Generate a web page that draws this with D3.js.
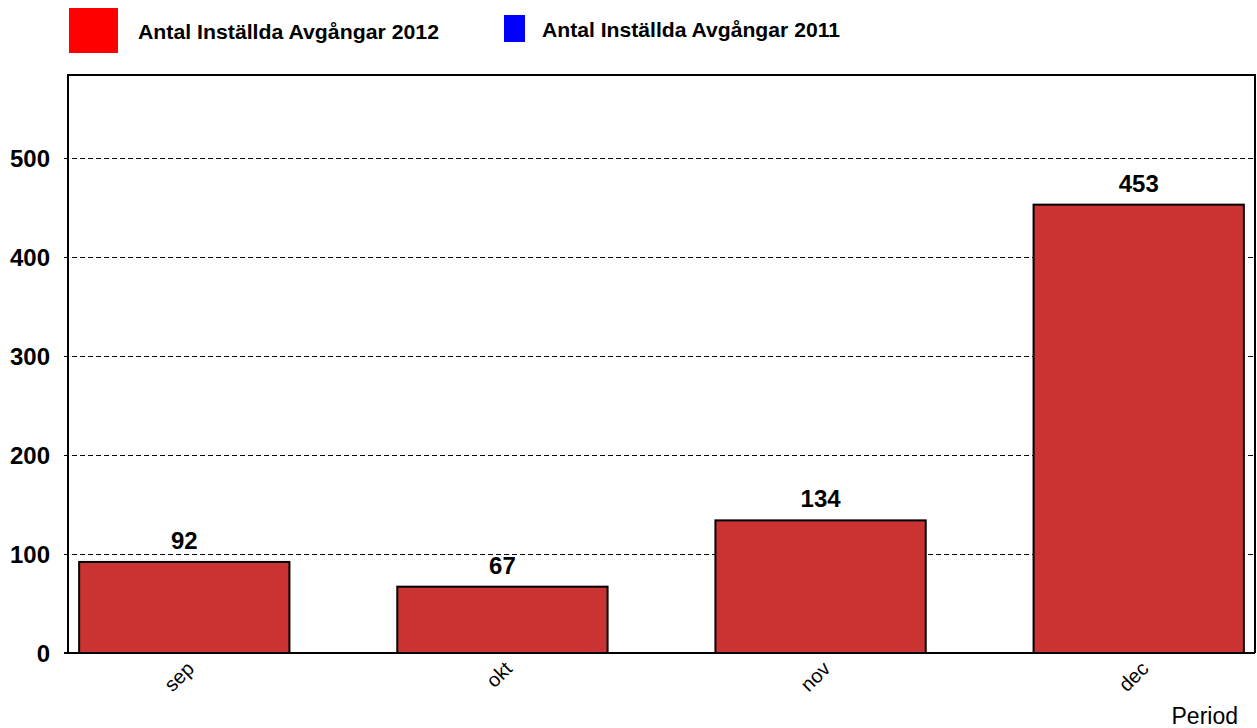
<!DOCTYPE html>
<html lang="sv">
<head>
	<meta charset="UTF-8">
	<title>Antal Inställda Avgångar</title>
	<style>
		html, body {
			margin: 0;
			background: #fff;
			font-family: 'Liberation Sans', Arial, sans-serif;
		}
	</style>
	<script src="https://d3js.org/d3.v7.min.js"></script>
</head>
<body>
	<svg id="chart"></svg>
	<script>
		// data
		const periods = ['sep', 'okt', 'nov', 'dec'];
		const values2012 = [92, 67, 134, 453];
		const yTicks = [0, 100, 200, 300, 400, 500];
		const legendLabels = ['Antal Inställda Avgångar 2012', 'Antal Inställda Avgångar 2011'];
		const legendColors = ['#ff0000', '#0000ff'];

		const width = 1257, height = 728;
		const plot = { left: 68, top: 75, right: 1255, bottom: 653 };

		const svg = d3.select('#chart').attr('width', width).attr('height', height);

		const x = d3.scaleBand()
			.domain(periods)
			.range([plot.left, plot.right])
			.paddingInner(0.339)
			.paddingOuter(0.035);

		const y = d3.scaleLinear()
			.domain([0, 584])
			.range([plot.bottom, plot.top]);

		// gridlines (dashed) with little tick stubs left of the axis
		svg.append('g')
			.selectAll('line')
			.data(yTicks.filter(d => d > 0))
			.join('line')
			.attr('x1', plot.left - 4)
			.attr('x2', plot.right)
			.attr('y1', d => Math.round(y(d)) + 0.5)
			.attr('y2', d => Math.round(y(d)) + 0.5)
			.attr('stroke', '#000')
			.attr('stroke-width', 1)
			.attr('shape-rendering', 'crispEdges')
			.attr('stroke-dasharray', '5,3');

		// y tick labels
		svg.append('g')
			.selectAll('text')
			.data(yTicks)
			.join('text')
			.attr('x', 50)
			.attr('y', d => y(d))
			.attr('dy', '0.36em')
			.attr('text-anchor', 'end')
			.attr('font-size', 24)
			.attr('font-weight', 700)
			.text(d => d);

		// bars
		svg.append('g')
			.selectAll('rect')
			.data(values2012)
			.join('rect')
			.attr('x', (d, i) => x(periods[i]))
			.attr('y', d => y(d))
			.attr('width', x.bandwidth())
			.attr('height', d => y(0) - y(d))
			.attr('fill', '#cc3333')
			.attr('stroke', '#000')
			.attr('stroke-width', 2);

		// value labels
		svg.append('g')
			.selectAll('text')
			.data(values2012)
			.join('text')
			.attr('x', (d, i) => x(periods[i]) + x.bandwidth() / 2)
			.attr('y', d => y(d) - 13)
			.attr('text-anchor', 'middle')
			.attr('font-size', 24)
			.attr('font-weight', 700)
			.text(d => d);

		// frame: top, left, right, plus x axis line
		svg.append('path')
			.attr('d', `M${plot.left},${plot.bottom} V${plot.top} H${plot.right} V${plot.bottom}`)
			.attr('fill', 'none')
			.attr('stroke', '#000')
			.attr('stroke-width', 2);
		svg.append('line')
			.attr('x1', plot.left - 4)
			.attr('x2', plot.right)
			.attr('y1', y(0))
			.attr('y2', y(0))
			.attr('stroke', '#000')
			.attr('stroke-width', 2);

		// x tick labels, rotated
		svg.append('g')
			.selectAll('text')
			.data(periods)
			.join('text')
			.attr('transform', d => `translate(${x(d) + x.bandwidth() / 2 + 11},${plot.bottom + 17}) rotate(-45)`)
			.attr('text-anchor', 'end')
			.attr('font-size', 20)
			.text(d => d);

		// axis title
		svg.append('text')
			.attr('x', 1238)
			.attr('y', 724)
			.attr('text-anchor', 'end')
			.attr('font-size', 23)
			.text('Period');

		// legend
		const legend = svg.append('g');
		legend.append('rect').attr('x', 69).attr('y', 8).attr('width', 49).attr('height', 45).attr('fill', legendColors[0]);
		legend.append('text').attr('x', 138).attr('y', 39).attr('font-size', 20).attr('font-weight', 700)
			.attr('textLength', 301).attr('lengthAdjust', 'spacingAndGlyphs').text(legendLabels[0]);
		legend.append('rect').attr('x', 504).attr('y', 15).attr('width', 21).attr('height', 27).attr('fill', legendColors[1]);
		legend.append('text').attr('x', 542).attr('y', 37).attr('font-size', 20).attr('font-weight', 700)
			.attr('textLength', 298).attr('lengthAdjust', 'spacingAndGlyphs').text(legendLabels[1]);
	</script>
</body>
</html>
